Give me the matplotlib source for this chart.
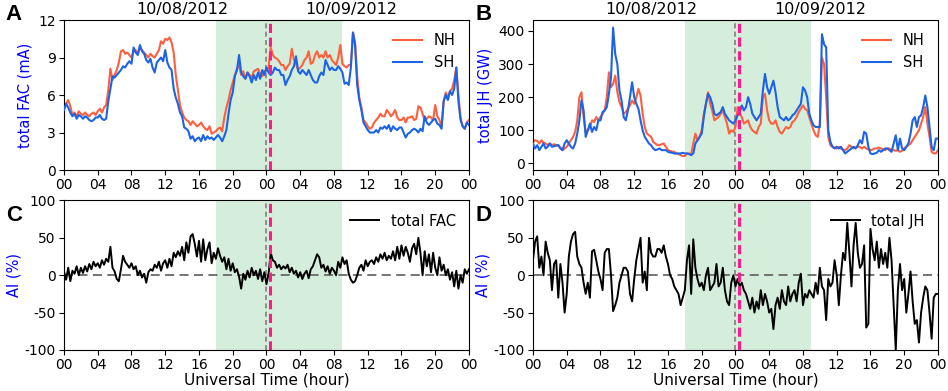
import numpy as np
import matplotlib.pyplot as plt

plt.rcParams['axes.unicode_minus'] = False

# 15-min samples, 00 UT 10/08/2012 to 00 UT 10/10/2012
fac_nh = [
    5.0, 5.3, 5.6, 5.1,  4.4, 4.6, 4.3, 4.7,  4.5, 4.4, 4.6, 4.4,  4.3, 4.5, 4.6, 4.4,
    4.7, 4.9, 4.6, 5.0,  5.2, 6.4, 8.1, 7.2,  7.6, 8.0, 8.6, 9.5,  9.6, 9.3, 9.4, 9.2,
    9.0, 9.5, 9.6, 9.3,  9.8, 9.6, 9.4, 9.2,  9.0, 9.3, 9.1, 9.0,  9.3, 9.6, 10.3, 10.1,
    10.5, 10.4, 10.6, 10.2,  9.4, 7.6, 6.4, 5.2,  4.6, 4.2, 4.0, 3.9,  3.6, 3.9, 3.7, 3.5,
    3.6, 3.8, 3.5, 3.3,  3.2, 3.5, 2.9, 3.0,  3.1, 3.3, 3.4, 3.1,  4.2, 5.0, 5.6, 6.4,
    7.0, 7.6, 8.1, 8.4,  7.6, 7.9, 7.3, 7.8,  7.6, 7.4, 7.9, 8.0,  8.1, 7.7, 7.5, 7.9,
    8.0, 8.2, 9.8, 9.2,  9.0, 8.9, 8.7, 8.4,  8.4, 8.0, 8.3, 8.5,  9.7, 8.8, 8.5, 8.0,
    8.2, 8.4, 8.8, 9.0,  9.5, 8.5, 8.6, 9.2,  9.5, 9.0, 9.2, 9.0,  9.5, 9.0, 9.2, 8.8,
    8.6, 8.4, 9.0, 10.0,  8.5, 8.3, 8.2, 8.4,  8.4, 11.0, 10.2, 7.5,  5.8, 5.0, 4.0, 3.8,
    3.5, 3.3, 3.4, 3.8,  4.0, 4.2, 4.5, 4.3,  4.3, 4.8, 4.6, 4.3,  4.5, 4.8, 4.2, 4.0,
    4.0, 4.2, 3.8, 4.2,  4.2, 4.3, 4.0, 4.1,  5.1, 5.0, 4.5, 4.0,  4.1, 4.3, 4.2, 4.0,
    5.2, 4.3, 4.0, 3.5,  5.5, 6.2, 5.8, 6.3,  6.5, 7.2, 8.2, 6.0,  4.2, 3.5, 3.3, 3.8,
    4.0]
fac_sh = [
    4.8, 5.3, 5.0, 4.6,  4.3, 4.5, 4.1, 4.4,  4.3, 4.1, 4.3, 4.2,  4.0, 3.9, 4.0, 4.2,
    4.2, 4.4, 4.1, 4.0,  4.1, 5.5, 6.5, 7.5,  7.4, 7.6, 7.8, 8.0,  8.3, 8.2, 8.5, 8.7,
    8.5, 9.8, 9.4, 9.2,  10.0, 9.5, 9.3, 8.8,  8.6, 8.9, 8.2, 7.8,  8.6, 8.8, 9.0, 8.7,
    9.6, 8.6, 8.2, 8.0,  6.5, 5.8, 5.3, 4.6,  4.3, 3.4, 3.3, 3.1,  2.5, 2.7, 2.3, 2.5,
    2.6, 2.3, 2.8, 2.4,  2.7, 2.5, 2.6, 2.4,  2.6, 2.8, 2.6, 2.3,  2.7, 3.2, 4.5, 5.6,
    6.2, 7.5, 8.0, 9.2,  7.8, 7.5, 7.3, 7.8,  7.5, 7.0, 7.6, 7.2,  7.8, 7.3, 8.0, 7.6,
    8.2, 7.8, 7.6, 7.8,  8.2, 8.0, 8.0, 7.6,  7.6, 6.8, 7.2, 7.5,  8.0, 8.3, 9.1, 7.9,
    7.7, 8.0, 7.8, 7.6,  8.0, 7.6, 7.2, 7.0,  7.0, 7.5, 7.8, 7.6,  8.8, 8.4, 8.0, 8.2,
    8.0, 8.0, 8.3, 8.1,  7.8, 6.9, 7.0, 6.8,  8.2, 11.0, 10.0, 6.8,  5.6, 4.8, 3.8, 3.5,
    3.2, 3.0, 3.0, 3.0,  3.2, 3.0, 3.4, 3.3,  3.5, 3.3, 3.6, 3.1,  3.5, 3.3, 3.2, 3.4,
    3.4, 3.0, 2.6, 2.9,  3.0, 3.2, 3.3, 3.2,  3.0, 3.3, 3.1, 4.3,  3.8, 3.6, 3.8, 4.0,
    4.1, 3.7, 3.6, 3.3,  5.5, 6.0, 5.6, 6.3,  6.0, 6.5, 8.2, 5.5,  4.0, 3.5, 3.3, 3.8,
    3.6]
jh_nh = [
    65, 70, 68, 60,  70, 62, 60, 55,  60, 55, 58, 52,  55, 48, 40, 45,
    50, 60, 70, 80,  95, 130, 200, 215,  140, 95, 100, 110,  130, 125, 140, 130,
    140, 150, 160, 200,  275, 230, 240, 265,  215, 185, 170, 150,  155, 165, 175, 190,
    180, 200, 225, 205,  150, 110, 90, 85,  80, 65, 60, 55,  55, 58, 60, 50,
    40, 38, 35, 35,  30, 28, 25, 22,  22, 30, 30, 28,  60, 90, 70, 80,
    100, 150, 180, 215,  180, 160, 130, 135,  140, 150, 160, 140,  120, 90, 100, 95,
    110, 170, 150, 140,  120, 125, 130, 110,  100, 95, 90, 110,  120, 200, 210, 160,
    130, 120, 120, 130,  110, 95, 90, 100,  110, 105, 110, 125,  130, 140, 155, 165,
    175, 165, 160, 140,  120, 100, 85, 80,  120, 320, 300, 200,  80, 55, 50, 48,
    45, 50, 45, 42,  40, 45, 55, 50,  45, 48, 50, 50,  45, 50, 45, 42,
    40, 42, 45, 45,  48, 45, 42, 40,  45, 45, 40, 40,  38, 40, 35, 38,
    45, 50, 55, 60,  70, 80, 90, 100,  120, 140, 170, 120,  80, 35, 30, 30,
    40]
jh_sh = [
    60, 45, 55, 40,  50, 60, 45, 50,  60, 50, 52, 55,  55, 45, 40, 60,
    70, 60, 50, 45,  60, 90, 130, 190,  160, 80, 100, 120,  95, 110, 100, 130,
    130, 155, 160, 170,  210, 260, 410, 330,  300, 220, 190, 140,  130, 160, 200, 245,
    200, 180, 165, 130,  100, 80, 70, 60,  55, 45, 40, 42,  45, 40, 40, 40,
    35, 33, 32, 30,  30, 30, 30, 32,  30, 30, 28, 25,  30, 60, 70, 80,
    90, 140, 180, 210,  200, 180, 150, 145,  150, 155, 170, 150,  140, 130, 125, 120,
    130, 145, 155, 175,  160, 170, 200, 180,  150, 140, 130, 140,  150, 220, 270, 230,
    210, 230, 250, 215,  170, 140, 135, 130,  140, 130, 135, 145,  150, 160, 170, 180,
    230, 220, 200, 150,  130, 115, 110, 110,  110, 390, 360, 350,  100, 65, 50, 45,
    50, 45, 50, 40,  30, 35, 40, 45,  50, 45, 55, 70,  60, 95, 90, 50,
    30, 28, 30, 32,  40, 35, 40, 45,  45, 40, 35, 60,  85, 40, 75, 45,
    40, 50, 60, 90,  130, 140, 110, 140,  145, 170, 205, 170,  110, 50, 40, 75,
    75]
ai_fac = [
    5, -6, 10, -8,  6, 2, 12, 0,  10, 3, 12, 5,  15, 8, 18, 12,
    16, 10, 20, 14,  22, 18, 38, 10,  5, -5, -8, 8,  26, 18, 14, 10,
    16, 8, 12, 0,  6, -3, 2, -10,  4, 8, 6, 14,  10, 18, 6, 16,
    20, 10, 22, 12,  30, 24, 32, 26,  38, 20, 44, 30,  52, 55, 42, 25,
    46, 18, 48, 20,  35, 44, 16, 30,  22, 36, 26, 18,  24, 8, 22, 6,
    16, 4, 8, -2,  -18, 2, -6, 6,  -3, 10, 0, 6,  -5, 8, -8, 4,
    -12, 2, 30, 20,  18, 10, 14, 8,  12, 9, 14, 4,  10, 2, 6, -3,
    4, -5, 2, 6,  -4, 8, 12, 20,  28, 24, 10, 14,  5, 12, 2, 10,
    6, 0, 18, 10,  24, 15, 20, 2,  -6, -10, -8, 0,  10, 14, 6, 20,
    12, 18, 20, 15,  24, 18, 28, 22,  30, 20, 26, 22,  32, 20, 38, 22,
    40, 26, 38, 30,  18, 36, 42, 28,  50, 30, 0, 32,  12, 28, 4, 30,
    10, 0, 24, 6,  14, 0, 8, -6,  4, -15, 6, -18,  0, -10, 8, 2,
    8]
ai_jh = [
    20, 45, 52, 10,  25, 0, 45, 30,  20, -20, 15, 20,  -30, 15, -10, -50,
    -25, 25, 45, 55,  58, 25, 15, 10,  -10, -25, -10, -30,  32, 34, 20, 5,
    -5, -20, 30, 35,  35, 0, -48, -40,  -30, -10, 0, 10,  10, 5, -25, -35,
    -5, 20, 35, 50,  -10, 5, -20, 50,  30, 25, 25, 35,  35, 30, 40, 25,
    15, 0, -5, -15,  -20, -25, -40, -30,  -20, 20, 40, -25,  48, 10, -5, -15,
    -10, -20, 0, 10,  -20, -15, -10, 15,  -15, -10, 10, -20,  -35, -40, -10, 0,
    -15, -5, -15, -10,  -20, -25, -35, -45,  -30, -50, -35, -45,  -20, -40, -25, -35,
    -50, -45, -72, -40,  -30, -45, -20, -35,  -40, -15, -35, -25,  -20, -35, -10, 2,
    -40, -25, -30, -20,  -25, -30, -10, -25,  10, -15, -20, -60,  -5, -15, -10, 20,
    0, -40, 0, 30,  20, 70, 30, -15,  40, 70, 30, 10,  15, 40, -70, -65,
    62, 35, 20, 45,  10, 35, 15, 30,  10, 50, 20, -40,  -100, -20, 15, -20,
    -5, -50, -25, 5,  -35, -65, -60, -90,  -50, -30, -15, -20,  -50, -85, -30, -25,
    -25]

hours = np.arange(len(fac_nh)) * 0.25
xticks = np.arange(0, 49, 4)
xlabels = ['00', '04', '08', '12', '16', '20'] * 2 + ['00']

nh_color = '#ff5f3f'
sh_color = '#1c63e6'
shade = (18, 33)

fig = plt.figure(figsize=(9.48, 3.91), dpi=100)
axA = fig.add_axes([0.0675, 0.5652, 0.4272, 0.3836])
axB = fig.add_axes([0.5622, 0.5652, 0.4272, 0.3836])
axC = fig.add_axes([0.0675, 0.1049, 0.4272, 0.3824])
axD = fig.add_axes([0.5622, 0.1049, 0.4272, 0.3824])

for ax in (axA, axB, axC, axD):
    ax.axvspan(shade[0], shade[1], color='#d5eedb', zorder=0, lw=0)
    ax.axvline(24, color='gray', ls='--', lw=1.2, dashes=(3, 2), zorder=1)
    ax.axvline(24.4, color='#ff1a8c', ls='--', lw=2.2, dashes=(3, 1.5), zorder=4)
    ax.set_xlim(0, 48)
    ax.set_xticks(xticks)
    ax.set_xticklabels(xlabels)
    ax.tick_params(labelsize=10, pad=2.5)

axA.plot(hours, fac_nh, color=nh_color, lw=1.5, label='NH', zorder=2)
axA.plot(hours, fac_sh, color=sh_color, lw=1.5, label='SH', zorder=3)
axA.set_ylim(0, 12)
axA.set_yticks([0, 3, 6, 9, 12])
axA.set_ylabel('total FAC (mA)', color='blue', fontsize=10.5)

axB.plot(hours, jh_nh, color=nh_color, lw=1.5, label='NH', zorder=2)
axB.plot(hours, jh_sh, color=sh_color, lw=1.5, label='SH', zorder=3)
axB.set_ylim(-20, 433)
axB.set_yticks([0, 100, 200, 300, 400])
axB.set_ylabel('total JH (GW)', color='blue', fontsize=10.5)

for ax in (axA, axB):
    ax.legend(loc='upper right', frameon=False, fontsize=10.5)
    ax.text(14, 1.02, '10/08/2012', transform=ax.get_xaxis_transform(),
            ha='center', va='bottom', fontsize=11.5)
    ax.text(34, 1.02, '10/09/2012', transform=ax.get_xaxis_transform(),
            ha='center', va='bottom', fontsize=11.5)

axC.plot(hours, ai_fac, color='black', lw=1.4, label='total FAC', zorder=3)
axD.plot(hours, ai_jh, color='black', lw=1.4, label='total JH', zorder=3)
for ax in (axC, axD):
    ax.axhline(0, color='dimgray', ls='--', lw=1.3, dashes=(5, 3), zorder=2)
    ax.set_ylim(-100, 100)
    ax.set_yticks([-100, -50, 0, 50, 100])
    ax.set_ylabel('AI (%)', color='blue', fontsize=10.5, labelpad=2)
    ax.set_xlabel('Universal Time (hour)', fontsize=11, labelpad=0)
    ax.legend(loc='upper right', frameon=False, fontsize=10.5)

for letter, (x, y) in zip('ABCD', [(0.006, 0.962), (0.502, 0.962),
                                   (0.006, 0.448), (0.502, 0.448)]):
    fig.text(x, y, letter, fontsize=16, fontweight='bold',
             family='Liberation Sans', va='center', ha='left')

fig.savefig('out.png', dpi=100)
